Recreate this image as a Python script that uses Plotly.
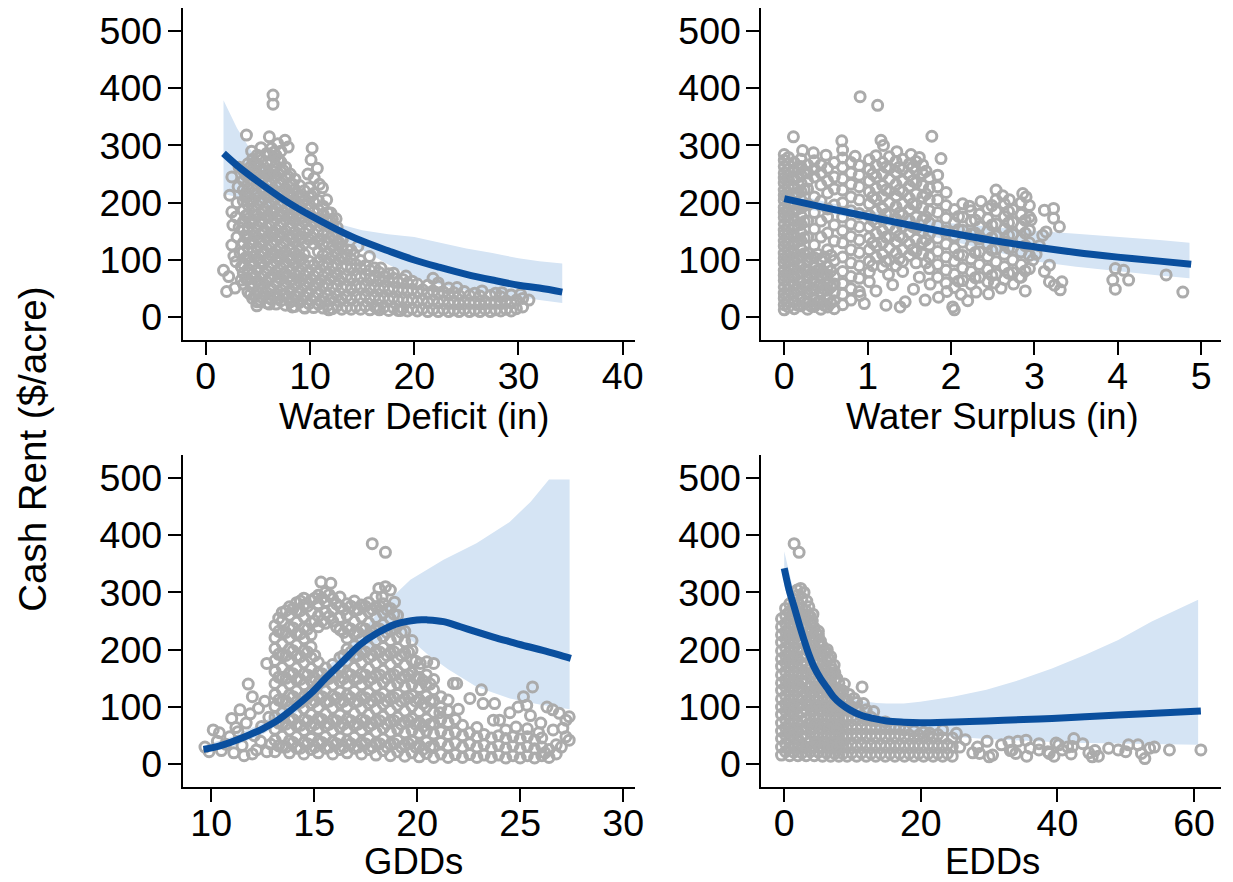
import plotly.graph_objects as go

FONT = "Liberation Sans, Arial, sans-serif"
GRAY = "#ababab"
NAVY = "#0a4f9e"
BAND = "#d5e4f4"

# ---------------- Water Deficit panel ----------------
wd_pts = [
    (1.7, 82), (2.2, 71), (2.0, 45), (2.8, 51), (3.4, 65), (2.5, 245), (2.3, 213), (2.5, 184), (2.6, 161), (2.5, 126),
    (2.9, 97), (3.0, 140), (3.1, 228), (3.0, 200), (2.9, 175), (3.3, 112), (3.2, 262), (3.4, 88), (2.7, 107), (3.2, 157),
    (3.9, 318), (6.45, 388), (6.45, 372), (6.1, 315), (7.6, 309), (6.9, 303), (7.9, 297), (5.3, 296), (4.4, 290),
    (10.2, 295), (10.1, 275), (10.7, 260), (10.4, 243), (10.9, 232), (9.8, 250), (11.2, 226), (11.6, 205), (12.0, 182), (12.5, 172),
    (4.9, 20), (6.1, 23), (8.3, 18), (9.5, 16), (11.8, 13),
    (13.1, 135), (14.6, 124), (15.7, 106), (16.8, 86), (18.0, 77), (19.2, 72), (21.8, 68), (22.3, 60), (24.1, 52),
    (26.5, 46), (28.4, 43), (30.2, 40), (31.0, 30), (16.4, 16), (18.7, 12), (14.2, 110), (13.6, 118),
]
wd_cols = [
    (3.6, [58, 77, 93, 114, 130, 151, 167, 187, 203, 222, 239, 256]),
    (4.05, [44, 66, 84, 104, 121, 141, 158, 178, 196, 212, 232, 249, 268]),
    (4.5, [33, 52, 75, 92, 113, 130, 149, 168, 186, 205, 223, 241, 259, 276]),
    (4.95, [27, 43, 63, 83, 102, 121, 139, 158, 177, 195, 214, 232, 250, 266, 283]),
    (5.4, [35, 52, 72, 93, 111, 130, 148, 167, 185, 204, 222, 241, 258, 275]),
    (5.85, [25, 43, 62, 81, 101, 119, 138, 157, 176, 194, 212, 231, 249, 268, 286]),
    (6.3, [31, 50, 70, 89, 108, 127, 145, 164, 183, 201, 220, 238, 256, 274, 295]),
    (6.75, [23, 41, 60, 79, 97, 116, 134, 153, 172, 190, 209, 228, 246, 264, 282]),
    (7.2, [29, 48, 67, 86, 104, 123, 142, 161, 179, 198, 217, 235, 254, 271, 290]),
    (7.65, [21, 39, 57, 76, 95, 114, 132, 151, 170, 188, 207, 225, 244, 262]),
    (8.1, [27, 46, 64, 83, 102, 120, 139, 158, 176, 195, 213, 232, 250]),
    (8.55, [19, 37, 56, 75, 93, 112, 131, 149, 168, 186, 205, 223, 241]),
    (9.0, [26, 45, 63, 82, 101, 119, 138, 156, 175, 193, 212, 230]),
    (9.45, [17, 36, 55, 73, 92, 110, 129, 147, 166, 184, 203, 221]),
    (9.9, [24, 43, 61, 80, 98, 136, 154, 173, 191, 210, 226]),
    (10.35, [17, 35, 54, 72, 91, 128, 146, 165, 183, 201, 216]),
    (10.8, [23, 42, 60, 79, 97, 115, 134, 152, 170, 188, 204]),
    (11.25, [16, 34, 53, 71, 90, 108, 126, 144, 162, 180, 194]),
    (11.7, [21, 40, 58, 77, 95, 113, 131, 149, 167, 183]),
    (12.15, [15, 33, 52, 70, 88, 106, 124, 142, 159, 171]),
    (12.6, [20, 38, 57, 75, 93, 111, 129, 146, 157]),
    (13.05, [14, 32, 51, 69, 87, 104, 121, 139]),
    (13.5, [18, 37, 55, 73, 91, 109]),
    (13.95, [14, 31, 49, 67, 85, 101, 117]),
    (14.4, [19, 38, 56, 74, 92]),
    (14.85, [14, 33, 51, 69, 86, 99]),
    (15.3, [20, 39, 57, 75, 90]),
    (15.75, [13, 31, 49, 67, 82]),
    (16.2, [19, 37, 55, 72, 86]),
    (16.65, [13, 30, 48, 65, 78]),
    (17.1, [18, 36, 54, 71]),
    (17.55, [12, 30, 47, 64, 76]),
    (18.0, [17, 35, 52, 68]),
    (18.45, [12, 29, 46, 61]),
    (18.9, [16, 33, 50, 66]),
    (19.35, [11, 28, 45, 60]),
    (19.8, [15, 32, 49, 63]),
    (20.3, [11, 27, 44, 58]),
    (20.8, [15, 31, 48]),
    (21.3, [10, 26, 42, 56]),
    (21.8, [14, 30, 46]),
    (22.3, [10, 25, 41, 54]),
    (22.8, [14, 29, 44]),
    (23.3, [10, 24, 39, 51]),
    (23.8, [13, 28, 43]),
    (24.3, [10, 23, 38]),
    (24.8, [14, 28, 45]),
    (25.3, [10, 24, 38]),
    (25.8, [13, 27, 42]),
    (26.3, [10, 23, 37]),
    (26.8, [14, 28]),
    (27.3, [10, 24, 38]),
    (27.8, [13, 27, 42]),
    (28.3, [11, 24, 36]),
    (28.8, [14, 29]),
    (29.3, [11, 25, 39]),
    (29.8, [15, 30]),
    (30.4, [18, 33]),
    # in-between columns of the dense core
    (3.83, [68, 104, 140, 177, 213, 248]),
    (4.28, [40, 59, 95, 131, 168, 204, 240, 262]),
    (4.73, [38, 70, 106, 142, 178, 214, 250, 270]),
    (5.18, [30, 60, 96, 132, 168, 204, 240, 278]),
    (5.63, [40, 76, 112, 148, 184, 220, 256]),
    (6.08, [34, 68, 104, 140, 176, 212, 248, 284]),
    (6.53, [38, 74, 110, 146, 182, 218, 254, 288]),
    (6.98, [34, 70, 106, 142, 178, 214, 250, 276]),
    (7.43, [40, 76, 112, 148, 184, 220, 256]),
    (7.88, [34, 70, 106, 142, 178, 214, 246]),
    (8.33, [30, 66, 102, 138, 174, 210, 232]),
    (8.78, [36, 72, 108, 144, 180, 216]),
    (9.23, [30, 66, 102, 138, 174, 210]),
    (10.12, [30, 66, 140, 176, 212]),
    (11.0, [28, 64, 100, 136, 172]),
    (11.9, [30, 66, 102, 138, 170]),
    (12.8, [28, 64, 100, 130]),
]
wd_fit_x = [1.7, 3, 5, 7.5, 10, 12.5, 15, 17.5, 20, 22.5, 25, 27.5, 30, 32, 34.2]
wd_fit_y = [286, 265, 237, 205, 178, 154, 133, 116, 100, 87, 75, 65, 56, 51, 44]
wd_hi_x = [1.7, 3, 5, 7.5, 10, 12.5, 15, 17.5, 20, 22.5, 25, 27.5, 30, 32, 34.2]
wd_hi_y = [379, 330, 272, 222, 188, 164, 152, 145, 140, 130, 120, 112, 103, 98, 94]
wd_lo_x = [1.7, 3, 5, 7.5, 10, 12.5, 15, 17.5, 20, 22.5, 25, 27.5, 30, 32, 34.2]
wd_lo_y = [215, 210, 200, 185, 168, 142, 118, 92, 70, 57, 47, 41, 36, 30, 25]

# ---------------- Water Surplus panel ----------------
ws_pts = [
    (0.91, 385), (1.12, 370), (0.11, 315), (1.77, 316), (0.69, 308), (0.70, 292), (1.16, 309), (1.19, 300), (1.88, 277),
    (1.35, 289), (1.52, 284), (1.62, 279), (0.35, 287), (0.22, 291), (0.5, 283), (0.85, 281),
    (2.54, 222), (2.86, 216), (2.90, 210), (3.12, 187), (3.23, 190), (3.23, 173), (3.30, 158), (3.14, 149), (3.10, 143),
    (3.18, 91), (3.12, 80), (3.18, 62), (3.24, 56), (3.33, 62), (3.31, 48), (2.89, 46), (3.02, 110), (3.06, 125),
    (2.96, 170), (2.70, 205), (2.36, 202), (2.22, 194), (2.62, 212), (2.98, 100),
    (3.97, 85), (4.07, 82), (3.94, 65), (4.13, 65), (3.97, 49), (4.58, 74), (4.78, 44),
    (1.69, 30), (1.85, 35), (2.02, 18), (2.04, 13), (1.39, 18), (1.45, 27), (1.22, 21), (0.96, 24), (0.91, 38),
    (1.10, 46), (1.30, 57), (1.55, 49), (1.02, 62), (2.20, 29), (2.45, 41), (2.60, 51), (2.30, 44), (2.52, 60),
    (2.75, 58), (2.82, 70), (1.62, 70), (1.42, 80), (1.25, 75), (1.75, 58), (1.95, 45), (2.12, 40),
]
ws_cols = [
    (0.0, [13, 22, 33, 42, 53, 64, 73, 82, 94, 103, 112, 124, 133, 144, 152, 163, 174, 183, 192, 204, 213, 222, 234, 243, 252, 263, 274, 284]),
    (0.05, [18, 27, 38, 48, 58, 69, 77, 88, 99, 107, 118, 129, 138, 147, 158, 169, 178, 187, 198, 209, 217, 228, 239, 247, 258, 268, 279]),
    (0.12, [15, 28, 42, 57, 70, 85, 98, 113, 127, 142, 156, 170, 185, 198, 213, 227, 241, 256, 270]),
    (0.2, [20, 35, 48, 62, 77, 90, 105, 119, 134, 148, 162, 177, 191, 205, 220, 234, 248, 263, 276]),
    (0.28, [14, 27, 41, 56, 69, 83, 98, 112, 140, 168, 197, 224, 238, 252, 266]),
    (0.36, [19, 33, 47, 62, 75, 89, 104, 126, 154, 183, 210, 245, 259, 273]),
    (0.44, [14, 28, 42, 57, 70, 84, 99, 140, 168, 203, 231, 252, 266]),
    (0.52, [18, 32, 47, 60, 74, 88, 118, 147, 175, 189, 217, 238, 260]),
    (0.6, [15, 29, 43, 58, 71, 99, 133, 161, 196, 224, 245, 270]),
    (0.7, [22, 40, 59, 80, 105, 130, 151, 175, 200, 222, 242, 262, 278]),
    (0.8, [30, 50, 71, 95, 118, 141, 163, 186, 210, 232, 252, 270]),
    (0.9, [45, 68, 90, 113, 135, 158, 181, 205, 228, 248, 265]),
    (1.02, [79, 98, 118, 139, 158, 178, 198, 219, 238, 258, 275]),
    (1.1, [105, 125, 146, 165, 185, 206, 225, 245, 265, 282]),
    (1.18, [88, 110, 130, 151, 170, 190, 211, 230, 250, 270]),
    (1.26, [100, 121, 140, 160, 181, 200, 220, 241, 260, 280]),
    (1.34, [90, 112, 132, 152, 172, 193, 212, 232, 253, 272]),
    (1.42, [98, 118, 139, 158, 178, 198, 219, 238, 258, 276]),
    (1.5, [108, 128, 148, 169, 188, 208, 229, 248, 268]),
    (1.58, [95, 115, 136, 155, 175, 196, 215, 235, 256, 272]),
    (1.66, [110, 131, 150, 170, 191, 210, 230, 251, 266]),
    (1.74, [85, 105, 126, 145, 165, 186, 205, 225, 244]),
    (1.84, [70, 92, 115, 138, 160, 183, 205, 228, 248]),
    (1.94, [60, 82, 105, 128, 150, 173, 195, 218]),
    (2.04, [52, 75, 98, 121, 142, 165, 188]),
    (2.14, [64, 86, 108, 131, 152, 175, 198]),
    (2.24, [58, 80, 102, 125, 146, 168, 186]),
    (2.34, [70, 92, 114, 137, 158, 180]),
    (2.44, [62, 84, 106, 128, 150, 172, 190]),
    (2.54, [75, 97, 119, 142, 163, 185, 205]),
    (2.64, [66, 88, 110, 132, 154, 176, 198]),
    (2.74, [78, 100, 122, 145, 166, 188]),
    (2.84, [70, 92, 114, 136, 158, 180, 200]),
    (2.94, [85, 108, 130, 152, 175, 195]),
    # in-between columns of the dense areas
    (0.16, [21, 49, 77, 105, 133, 161, 189, 217, 245, 262]),
    (0.24, [27, 55, 83, 111, 139, 167, 195, 223, 255]),
    (0.32, [20, 48, 76, 104]),
    (0.4, [26, 54, 82, 110]),
    (0.48, [21, 49, 77, 105]),
    (0.56, [25, 53, 81, 108]),
    (1.06, [90, 130, 170, 210, 250]),
    (1.22, [98, 140, 180, 222, 262]),
    (1.38, [102, 142, 182, 222, 262]),
    (1.54, [118, 158, 198, 238, 262]),
    (1.7, [95, 135, 175, 215, 255]),
    (2.09, [63, 109, 153, 176]),
    (2.29, [69, 113, 147, 170]),
    (2.49, [73, 117, 139, 161, 195]),
    (2.69, [77, 121, 143, 165, 185]),
    (2.89, [81, 125, 147, 169]),
]
ws_fit_x = [0, 0.5, 1, 1.5, 2, 2.5, 3, 3.5, 4, 4.5, 4.88]
ws_fit_y = [207, 191, 176, 161, 147, 134, 123, 113, 105, 98, 92.5]
ws_hi_x = [0, 0.5, 1, 1.5, 2, 2.5, 3, 3.5, 4, 4.5, 4.86]
ws_hi_y = [220, 201, 186, 174, 164, 157, 151, 146, 141, 135, 130]
ws_lo_x = [0, 0.5, 1, 1.5, 2, 2.5, 3, 3.5, 4, 4.5, 4.86]
ws_lo_y = [195, 183, 168, 151, 133, 115, 98, 88, 80, 73, 68]

# ---------------- GDD panel ----------------
gdd_pts = [
    (9.7, 30), (9.9, 22), (10.1, 60), (10.3, 40), (10.5, 24), (10.7, 35), (10.9, 48), (11.1, 20), (11.3, 57), (11.5, 33),
    (11.7, 72), (11.8, 140), (11.9, 88), (12.1, 50), (12.3, 98), (12.2, 25), (12.45, 66), (12.7, 176), (12.6, 110),
    (12.8, 82), (12.9, 35), (11.0, 80), (11.4, 95), (12.0, 118), (12.0, 18), (12.7, 22), (12.4, 40), (11.6, 15),
    (10.4, 55), (11.2, 64),
    (15.33, 318), (15.81, 316), (17.82, 385), (18.46, 370), (18.14, 307), (18.46, 310), (18.7, 304), (18.3, 292), (18.9, 283),
    (20.15, 176), (20.47, 179), (20.8, 176), (21.76, 141), (21.92, 141), (21.1, 90), (22.56, 115), (23.12, 130),
    (23.2, 106), (23.76, 106), (25.6, 135), (25.16, 118), (25.32, 103), (23.7, 77), (24.0, 77), (24.5, 90),
    (26.58, 95), (26.9, 89), (27.22, 77), (27.38, 83), (27.07, 63), (27.22, 48), (27.38, 42), (24.8, 65),
    (25.5, 85), (26.0, 72), (26.3, 100), (24.9, 100), (22.0, 96), (21.5, 112), (25.9, 55), (26.6, 60), (27.0, 30), (26.2, 20),
]
gdd_cols = [
    (13.1, [22, 42, 61, 82, 101, 122, 141, 162, 181, 202, 221, 242]),
    (13.45, [30, 49, 70, 90, 109, 130, 150, 169, 190, 210, 229, 250, 265]),
    (13.8, [20, 41, 60, 79, 100, 121, 140, 159, 180, 201, 220, 239, 260, 275]),
    (14.15, [28, 48, 67, 88, 109, 128, 147, 168, 189, 208, 227, 248, 268, 282]),
    (14.5, [18, 38, 59, 78, 97, 118, 139, 158, 177, 198, 219, 238, 257, 278, 290]),
    (14.85, [26, 45, 66, 87, 106, 125, 146, 167, 186, 205, 226, 247, 266, 286]),
    (15.2, [20, 40, 61, 80, 99, 120, 141, 160, 178, 240, 259, 280, 295]),
    (15.55, [28, 48, 67, 88, 109, 128, 147, 168, 246, 265, 284, 300]),
    (15.9, [18, 39, 58, 77, 98, 119, 138, 157, 174, 250, 270, 289]),
    (16.25, [26, 46, 65, 86, 107, 126, 145, 166, 186, 235, 256, 275, 292]),
    (16.6, [20, 41, 60, 79, 100, 121, 140, 159, 180, 201, 220, 239, 260, 280]),
    (16.95, [28, 47, 68, 89, 108, 127, 148, 169, 188, 207, 228, 249, 268, 285]),
    (17.3, [18, 38, 59, 78, 97, 118, 139, 158, 177, 198, 219, 238, 257, 278]),
    (17.65, [26, 45, 66, 87, 106, 125, 146, 167, 186, 205, 226, 247, 266, 282]),
    (18.0, [16, 37, 56, 75, 96, 117, 136, 155, 176, 197, 216, 235, 256, 275, 292]),
    (18.35, [24, 44, 63, 84, 105, 124, 143, 164, 185, 204, 223, 244, 264, 280]),
    (18.7, [15, 35, 56, 75, 94, 115, 136, 155, 174, 195, 216, 235, 254, 272]),
    (19.05, [22, 42, 61, 82, 103, 122, 141, 162, 183, 202, 221, 242, 260]),
    (19.4, [14, 34, 55, 74, 93, 114, 135, 154, 173, 194, 214, 232]),
    (19.75, [20, 40, 59, 80, 101, 120, 139, 160, 181, 199, 216]),
    (20.1, [13, 33, 54, 73, 92, 113, 134, 152, 168]),
    (20.45, [19, 39, 58, 79, 100, 119, 138, 156]),
    (20.8, [12, 32, 53, 72, 91, 112, 130, 148]),
    (21.15, [18, 38, 57, 78, 99, 118]),
    (21.5, [12, 32, 52, 73, 94]),
    (21.85, [17, 37, 56, 78]),
    (22.2, [12, 30, 50, 68]),
    (22.55, [17, 36, 55]),
    (22.9, [12, 30, 48, 64]),
    (23.25, [16, 34, 52]),
    (23.6, [12, 28, 46]),
    (23.95, [16, 33, 50]),
    (24.3, [11, 28, 45, 60]),
    (24.65, [15, 32, 48]),
    (25.0, [11, 27, 44]),
    (25.35, [15, 31, 48, 62]),
    (25.7, [11, 27, 42]),
    (26.05, [15, 30, 46]),
    (26.4, [12, 26]),
    (26.75, [18, 34]),
    # in-between columns of the dense mass
    (13.28, [32, 72, 112, 152, 192, 232, 255]),
    (13.63, [30, 70, 110, 150, 190, 230, 268]),
    (13.98, [38, 78, 118, 158, 198, 238, 272]),
    (14.33, [28, 68, 108, 148, 188, 228, 268, 285]),
    (14.68, [36, 76, 116, 156, 196, 236, 276]),
    (15.03, [30, 70, 110, 150, 190, 250, 290]),
    (15.38, [38, 78, 118, 158, 250, 290]),
    (15.73, [30, 70, 110, 150, 258, 296]),
    (16.08, [36, 76, 116, 156, 240, 280]),
    (16.43, [30, 70, 110, 150, 190, 230, 270]),
    (16.78, [36, 76, 116, 156, 196, 236, 276]),
    (17.13, [30, 70, 110, 150, 190, 230, 270]),
    (17.48, [36, 76, 116, 156, 196, 236, 276]),
    (17.83, [30, 70, 110, 150, 190, 230, 270]),
    (18.18, [36, 76, 116, 156, 196, 236, 276]),
    (18.53, [30, 70, 110, 150, 190, 230, 270]),
    (18.88, [36, 76, 116, 156, 196, 236, 262]),
    (19.23, [30, 70, 110, 150, 190, 230]),
    (19.58, [36, 76, 116, 156, 196]),
    (19.93, [30, 70, 110, 150, 180]),
    (20.28, [26, 66, 106, 146]),
    (20.63, [30, 70, 110, 140]),
]
gdd_fit_x = [9.63, 10.5, 11.64, 12.5, 13.24, 14, 14.85, 15.6, 16.46, 17.2, 18.06, 19, 19.99, 20.5, 21.28, 22.1,
             22.88, 23.7, 24.49, 25.3, 26.1, 26.8, 27.46]
gdd_fit_y = [26, 33, 48, 62, 77, 98, 124, 152, 182, 208, 229, 245, 252, 252, 249, 240, 231, 222, 214, 206, 199, 192, 185]
gdd_hi_x = [9.63, 11, 12.5, 14, 15.5, 16.5, 17.5, 18.5, 19.67, 21.28, 22.88, 24.49, 25.5, 26.4, 27.4]
gdd_hi_y = [33, 48, 72, 112, 165, 200, 240, 282, 322, 357, 386, 423, 458, 497, 497]
gdd_lo_x = [9.63, 11, 12.5, 14, 15.5, 16.5, 17.5, 18.5, 19.2, 20.5, 21.5, 22.9, 24.5, 26, 27.4]
gdd_lo_y = [19, 30, 52, 86, 132, 165, 198, 222, 232, 192, 166, 135, 115, 104, 96]

# ---------------- EDD panel ----------------
edd_pts = [
    (1.45, 385), (2.18, 370), (2.4, 307), (2.9, 300), (1.9, 304), (3.3, 285), (3.6, 275), (4.2, 262), (3.9, 247),
    (5.0, 232), (6.8, 188), (7.3, 173), (6.3, 200), (11.4, 135), (11.6, 106), (13.1, 92), (9.5, 122), (10.2, 115), (8.8, 140),
    (42.4, 45), (47.5, 28), (48.9, 25), (50.4, 34), (51.8, 34), (53.5, 28), (52.3, 19), (52.8, 10), (56.4, 25), (61.0, 25),
    (54.2, 30), (45.5, 24), (46.0, 14), (44.6, 20), (41.5, 30), (40.2, 34), (38.6, 22), (37.3, 36), (36.0, 28), (35.5, 14),
    (34.2, 40), (33.1, 24), (31.8, 34), (30.5, 16), (29.7, 40), (28.3, 30), (27.6, 20), (26.5, 43), (25.7, 30), (43.7, 36),
    (39.5, 14), (42.0, 18), (50.0, 22), (35.4, 42), (37.3, 25), (38.8, 19), (39.8, 37), (40.7, 25), (42.2, 31), (45.1, 13),
    (28.6, 19), (30.0, 13), (32.9, 39), (33.4, 25), (33.9, 19), (25.2, 54), (23.2, 60), (21.3, 54),
]
edd_cols = [
    (-0.4, [16, 30, 45, 58, 72, 87, 100, 114, 129, 142, 156, 171, 184, 198, 213, 226, 240, 254]),
    (0.2, [22, 36, 51, 64, 78, 93, 106, 120, 135, 148, 162, 177, 190, 204, 219, 232, 246, 260, 272]),
    (0.8, [15, 29, 44, 57, 71, 86, 99, 113, 128, 141, 155, 170, 183, 197, 212, 225, 239, 254, 267, 280]),
    (1.4, [21, 35, 50, 63, 77, 92, 105, 119, 134, 147, 161, 176, 189, 203, 218, 231, 245, 260, 273, 288]),
    (2.0, [15, 29, 44, 57, 71, 86, 99, 113, 128, 141, 155, 170, 183, 197, 212, 225, 239, 254, 267, 282, 295]),
    (2.6, [20, 34, 49, 62, 76, 91, 104, 118, 133, 146, 160, 175, 188, 202, 217, 230, 244, 259, 272, 290]),
    (3.2, [15, 30, 46, 63, 78, 94, 111, 126, 142, 159, 174, 190, 207, 222, 238, 255, 268]),
    (3.8, [22, 38, 55, 70, 86, 103, 118, 134, 151, 166, 182, 199, 214, 230, 246, 258]),
    (4.4, [15, 31, 48, 63, 79, 96, 111, 127, 144, 159, 175, 192, 207, 223, 238]),
    (5.0, [21, 37, 54, 69, 85, 102, 117, 133, 150, 165, 181, 198, 213, 225]),
    (5.6, [14, 30, 47, 62, 78, 95, 110, 126, 143, 158, 174, 191, 206]),
    (6.2, [20, 36, 53, 68, 84, 101, 116, 132, 149, 164, 180, 195]),
    (6.8, [14, 30, 47, 62, 78, 95, 110, 126, 143, 158, 172]),
    (7.4, [19, 35, 52, 67, 83, 100, 115, 131, 147, 160]),
    (8.0, [14, 30, 47, 62, 78, 95, 110, 126, 142]),
    (8.6, [19, 35, 52, 67, 83, 100, 115, 128]),
    (9.2, [14, 30, 47, 62, 78, 95, 112]),
    (9.9, [20, 36, 53, 68, 84, 100]),
    (10.6, [14, 30, 47, 62, 78, 96, 108]),
    (11.3, [20, 36, 53, 68, 85]),
    (12.0, [14, 30, 47, 62, 78, 95]),
    (12.7, [19, 35, 52, 67, 82]),
    (13.4, [14, 30, 47, 62, 76]),
    (14.1, [19, 35, 52, 67]),
    (14.8, [14, 30, 47, 62, 74]),
    (15.5, [19, 35, 52, 66]),
    (16.2, [14, 30, 47, 62]),
    (16.9, [19, 35, 52, 64]),
    (17.6, [14, 30, 47, 60]),
    (18.3, [19, 35, 51]),
    (19.0, [14, 30, 46, 58]),
    (19.7, [19, 35, 51]),
    (20.4, [14, 30, 46, 56]),
    (21.1, [19, 35, 50]),
    (21.8, [14, 30, 46]),
    (22.5, [19, 35, 52]),
    (23.2, [14, 30, 46]),
    (23.9, [19, 35]),
    (24.6, [14, 30, 46]),
    # in-between columns of the dense area
    (3.5, [38, 70, 102, 134, 166, 198, 230, 260]),
    (4.1, [30, 62, 94, 126, 158, 190, 222, 250]),
    (4.7, [38, 70, 102, 134, 166, 198, 228]),
    (5.3, [30, 62, 94, 126, 158, 190, 215]),
    (5.9, [38, 70, 102, 134, 166, 195]),
    (6.5, [30, 62, 94, 126, 158, 185]),
    (7.1, [38, 70, 102, 134, 165]),
    (7.7, [30, 62, 94, 126, 150]),
    (8.3, [38, 70, 102, 130]),
]
edd_fit_x = [0, 0.7, 1.45, 2.2, 2.9, 3.6, 4.36, 5.3, 6.3, 7.2, 8.24, 9.6, 11.15, 13, 15, 17.5, 19.9, 25, 29.6,
             35, 39.2, 44, 48.9, 55, 61]
edd_fit_y = [342, 305, 275, 244, 217, 192, 170, 150, 133, 118, 106, 95, 86, 80, 75.6, 73.5, 72.6, 74, 75.6,
             78, 80, 83, 86, 89.5, 93]
edd_hi_x = [0, 1.45, 2.9, 4.36, 6.3, 8.24, 10, 11.6, 13.5, 15, 17.5, 19.9, 24.7, 29.6, 34.4, 39.2, 44.1, 48.9, 53.8, 60.6]
edd_hi_y = [372, 298, 236, 186, 148, 124, 114, 110, 107, 106, 106, 109, 118, 130, 147, 167, 191, 217, 249, 287]
edd_lo_x = [0, 1.45, 2.9, 4.36, 6.3, 8.24, 10, 11.6, 13.5, 15, 17.5, 19.9, 24.7, 29.6, 34.4, 39.2, 44.1, 48.9, 53.8, 60.6]
edd_lo_y = [312, 252, 198, 154, 118, 90, 78, 70, 63, 59, 55, 52, 48, 44, 41, 39, 37, 36, 35, 34]

# ---------------- axis settings ----------------
y_ticks = [0, 100, 200, 300, 400, 500]
panels = [
    dict(pts=wd_pts, cols=wd_cols, fx=wd_fit_x, fy=wd_fit_y, hx=wd_hi_x, hy=wd_hi_y, lx=wd_lo_x, ly=wd_lo_y,
         xr=[-2.219, 41.21], xt=[0, 10, 20, 30, 40], title="Water Deficit (in)"),
    dict(pts=ws_pts, cols=ws_cols, fx=ws_fit_x, fy=ws_fit_y, hx=ws_hi_x, hy=ws_hi_y, lx=ws_lo_x, ly=ws_lo_y,
         xr=[-0.274, 5.238], xt=[0, 1, 2, 3, 4, 5], title="Water Surplus (in)"),
    dict(pts=gdd_pts, cols=gdd_cols, fx=gdd_fit_x, fy=gdd_fit_y, hx=gdd_hi_x, hy=gdd_hi_y, lx=gdd_lo_x, ly=gdd_lo_y,
         xr=[8.617, 30.59], xt=[10, 15, 20, 25, 30], title="GDDs"),
    dict(pts=edd_pts, cols=edd_cols, fx=edd_fit_x, fy=edd_fit_y, hx=edd_hi_x, hy=edd_hi_y, lx=edd_lo_x, ly=edd_lo_y,
         xr=[-3.343, 63.95], xt=[0, 20, 40, 60], title="EDDs"),
]

W, H = 1233, 882
x_domains = [[184 / W, 640 / W], [767 / W, 1230 / W]]
y_domains = [[1 - 340.2 / H, 1 - 7.9 / H], [1 - 787.2 / H, 1 - 454.9 / H]]
title_pos = [(417.5, 416), (1000, 416), (417, 861), (1000, 861)]

fig = go.Figure()
axis_common = dict(
    showline=True, linecolor="black", linewidth=2, ticks="outside", ticklen=13, tickwidth=2,
    tickcolor="black", showgrid=False, zeroline=False,
    tickfont=dict(family=FONT, size=37.5, color="black"),
)

for i, p in enumerate(panels):
    k = "" if i == 0 else str(i + 1)
    xa, ya = "x" + k, "y" + k
    xs = [q[0] for q in p["pts"]]
    ys = [q[1] for q in p["pts"]]
    for cx, cys in p["cols"]:
        xs += [cx] * len(cys)
        ys += list(cys)
    fig.add_trace(go.Scatter(
        x=list(p["hx"]) + list(p["lx"])[::-1], y=list(p["hy"]) + list(p["ly"])[::-1],
        fill="toself", fillcolor=BAND, line=dict(width=0), mode="lines",
        hoverinfo="skip", xaxis=xa, yaxis=ya))
    fig.add_trace(go.Scatter(
        x=xs, y=ys, mode="markers", xaxis=xa, yaxis=ya,
        marker=dict(symbol="circle-open", size=10, color=GRAY, line=dict(width=3, color=GRAY))))
    fig.add_trace(go.Scatter(
        x=p["fx"], y=p["fy"], mode="lines", xaxis=xa, yaxis=ya,
        line=dict(color=NAVY, width=7, shape="spline")))
    col, row = i % 2, i // 2
    fig.layout["xaxis" + k] = dict(axis_common, domain=x_domains[col], anchor=ya, range=p["xr"],
                                   tickvals=p["xt"], ticklabelstandoff=-11)
    fig.layout["yaxis" + k] = dict(axis_common, domain=y_domains[row], anchor=xa, range=[-40, 540],
                                   tickvals=y_ticks, ticklabelstandoff=-2)
    tx, ty = title_pos[i]
    fig.add_annotation(text=p["title"], x=tx / W, y=1 - ty / H, xref="paper", yref="paper",
                       xanchor="center", yanchor="middle", showarrow=False,
                       font=dict(family=FONT, size=36.5, color="black"))

fig.add_annotation(text="Cash Rent ($/acre)", x=32 / W, y=1 - 449 / H, xref="paper", yref="paper",
                   xanchor="center", yanchor="middle", showarrow=False, textangle=-90,
                   font=dict(family=FONT, size=38.5, color="black"))

fig.update_layout(width=W, height=H, margin=dict(l=0, r=0, t=0, b=0), showlegend=False,
                  paper_bgcolor="white", plot_bgcolor="white")

fig.write_html("out.html", config={"displayModeBar": False},
               post_script="document.body.style.margin='0';document.body.style.overflow='hidden';")
